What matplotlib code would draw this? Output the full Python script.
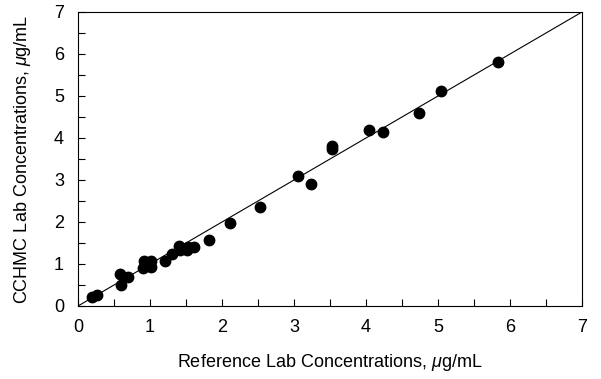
import matplotlib
matplotlib.use("Agg")
import matplotlib.pyplot as plt
from matplotlib.ticker import MultipleLocator

plt.rcParams['font.family'] = ['Liberation Sans', 'DejaVu Sans']
plt.rcParams['mathtext.fontset'] = 'custom'
plt.rcParams['mathtext.rm'] = 'Liberation Sans'
plt.rcParams['mathtext.it'] = 'Liberation Sans:italic'

ref_conc = [0.19, 0.27, 0.59, 0.60, 0.70, 0.91, 0.90, 1.01, 1.01, 1.21, 1.31,
            1.40, 1.42, 1.51, 1.53, 1.61, 1.82, 2.11, 2.53, 3.05, 3.23, 3.53,
            3.53, 4.04, 4.24, 4.74, 5.04, 5.83]
cchmc_conc = [0.21, 0.27, 0.76, 0.50, 0.70, 1.08, 0.90, 1.07, 0.94, 1.08, 1.23,
              1.44, 1.33, 1.33, 1.41, 1.41, 1.57, 1.98, 2.36, 3.10, 2.90, 3.73,
              3.82, 4.18, 4.14, 4.60, 5.12, 5.81]
identity = [0, 7]

fig = plt.figure(figsize=(6.01, 3.79), dpi=100)
ax = fig.add_axes([78/601, 1-306/379, (582-78)/601, (306-12)/379])

ax.plot(identity, identity, color='black', lw=0.8)
ax.plot(ref_conc, cchmc_conc, 'o', color='black', ms=7.5, zorder=3)

ax.set_xlim(0, 7)
ax.set_ylim(0, 7)
ax.xaxis.set_major_locator(MultipleLocator(1))
ax.yaxis.set_major_locator(MultipleLocator(1))
ax.xaxis.set_minor_locator(MultipleLocator(0.5))
ax.yaxis.set_minor_locator(MultipleLocator(0.5))
ax.tick_params(which='both', direction='in', length=5, width=0.8, labelsize=13)
ax.tick_params(axis='x', pad=9)
ax.tick_params(axis='y', pad=10)
for s in ax.spines.values():
    s.set_linewidth(0.8)

ax.set_xlabel(r'Reference Lab Concentrations, $\mathit{\mu}$g/mL', fontsize=13, labelpad=12)
ax.set_ylabel(r'CCHMC Lab Concentrations, $\mathit{\mu}$g/mL', fontsize=13, labelpad=15)

fig.savefig('out.png', dpi=100)
